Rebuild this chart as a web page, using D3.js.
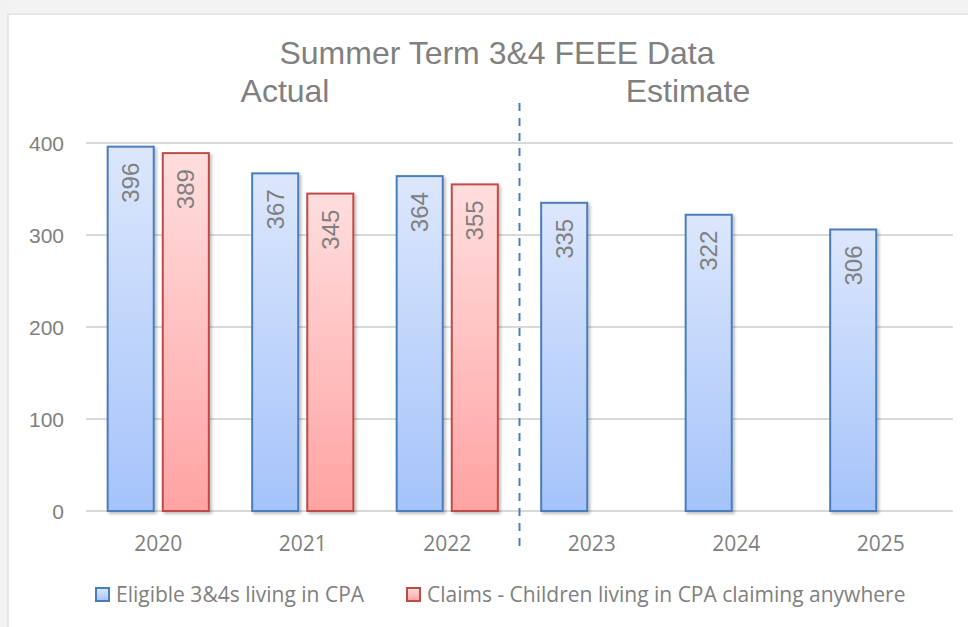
<!DOCTYPE html>
<html>
<head>
<meta charset="utf-8">
<script src="https://cdn.jsdelivr.net/npm/d3@7"></script>
<style>
  html, body { margin: 0; padding: 0; background: #fff; }
  svg { display: block; }
</style>
</head>
<body>
<script>
// chart data
var years = ["2020", "2021", "2022", "2023", "2024", "2025"];
var eligible = [396, 367, 364, 335, 322, 306];
var claims = [389, 345, 355, null, null, null];
var seriesNames = ["Eligible 3&4s living in CPA", "Claims - Children living in CPA claiming anywhere"];
var yTicks = [0, 100, 200, 300, 400];

var W = 968, H = 627;
var plot = { left: 86, right: 953, top: 143, bottom: 511 };

var svg = d3.select("body").append("svg").attr("width", W).attr("height", H);
var defs = svg.append("defs");

function grad(id, c1, c2) {
    var g = defs.append("linearGradient").attr("id", id)
        .attr("x1", 0).attr("y1", 0).attr("x2", 0).attr("y2", 1);
    g.append("stop").attr("offset", "0%").attr("stop-color", c1);
    g.append("stop").attr("offset", "100%").attr("stop-color", c2);
}
grad("gBlue", "#dce7fc", "#a5c3fa");
grad("gRed", "#ffdede", "#ffa3a3");

var sh = defs.append("filter").attr("id", "shadow").attr("x", "-20%").attr("y", "-20%").attr("width", "150%").attr("height", "150%");
sh.append("feDropShadow").attr("dx", 2).attr("dy", 2).attr("stdDeviation", 1.5)
    .attr("flood-color", "#000").attr("flood-opacity", 0.25);

// grey frame of the screenshot
svg.append("rect").attr("x", 0).attr("y", 0).attr("width", W).attr("height", 15).attr("fill", "#f3f3f3");
svg.append("rect").attr("x", 0).attr("y", 13).attr("width", W).attr("height", 2).attr("fill", "#e6e6e6");
svg.append("rect").attr("x", 0).attr("y", 0).attr("width", 8).attr("height", H).attr("fill", "#f2f2f2");
svg.append("rect").attr("x", 7).attr("y", 13).attr("width", 2).attr("height", H).attr("fill", "#e6e6e6");

var x0 = d3.scaleBand().domain(years).range([plot.left, plot.right])
    .paddingInner(0.3).paddingOuter(0.15);
var x1 = d3.scaleBand().domain([0, 1]).range([0, x0.bandwidth()]).paddingInner(0.164);
var y = d3.scaleLinear().domain([0, 400]).range([plot.bottom, plot.top]);

var txt = "#808080";

// gridlines
svg.append("g").selectAll("line").data(yTicks).enter().append("line")
    .attr("x1", plot.left).attr("x2", plot.right)
    .attr("y1", function(d) { return y(d); }).attr("y2", function(d) { return y(d); })
    .attr("stroke", "#d9d9d9").attr("stroke-width", 2);

// y axis labels
var yAxis = d3.axisLeft(y).tickValues(yTicks).tickSize(0).tickPadding(0);
var ya = svg.append("g").attr("transform", "translate(64,0)").call(yAxis);
ya.select(".domain").remove();
ya.selectAll("text").attr("fill", txt).style("font-family", "'Liberation Sans', Arial, sans-serif")
    .style("font-size", "21px").attr("dy", "0.35em");

// x axis labels
var xAxis = d3.axisBottom(x0).tickSize(0).tickPadding(0);
var xa = svg.append("g").attr("transform", "translate(0,535)").call(xAxis);
xa.select(".domain").remove();
xa.selectAll("text").attr("fill", txt).style("font-family", "'Open Sans', sans-serif")
    .style("font-size", "21px").attr("dy", "0.75em");

// bars
var rows = years.map(function(yr, i) {
    return { year: yr, vals: [eligible[i], claims[i]] };
});
var fills = ["url(#gBlue)", "url(#gRed)"];
var strokes = ["#4a7ebb", "#be4b48"];

var groups = svg.append("g").selectAll("g").data(rows).enter().append("g")
    .attr("transform", function(d) { return "translate(" + x0(d.year) + ",0)"; });

groups.selectAll("rect")
    .data(function(d) { return d.vals.map(function(v, k) { return { k: k, v: v }; }).filter(function(e) { return e.v != null; }); })
    .enter().append("rect")
    .attr("x", function(d) { return x1(d.k); })
    .attr("y", function(d) { return y(d.v); })
    .attr("width", x1.bandwidth())
    .attr("height", function(d) { return y(0) - y(d.v); })
    .attr("fill", function(d) { return fills[d.k]; })
    .attr("stroke", function(d) { return strokes[d.k]; })
    .attr("stroke-width", 2)
    .attr("filter", "url(#shadow)");

groups.selectAll("text.val")
    .data(function(d) { return d.vals.map(function(v, k) { return { k: k, v: v }; }).filter(function(e) { return e.v != null; }); })
    .enter().append("text").attr("class", "val")
    .attr("transform", function(d) {
        return "translate(" + (x1(d.k) + x1.bandwidth() / 2) + "," + (y(d.v) + 16) + ") rotate(-90)";
    })
    .attr("text-anchor", "end").attr("dy", "0.35em")
    .attr("fill", txt).style("font-family", "'Liberation Sans', Arial, sans-serif")
    .style("font-size", "24px")
    .text(function(d) { return d.v; });

// dashed divider between actual and estimate
var divX = x0("2023") - x0.step() * x0.paddingInner() / 2;
svg.append("line").attr("x1", divX).attr("x2", divX).attr("y1", 103).attr("y2", 546)
    .attr("stroke", "#4a7ebb").attr("stroke-width", 2).attr("stroke-dasharray", "8,7");

// titles
var titleFont = "'Liberation Sans', Arial, sans-serif";
svg.append("text").attr("x", 497).attr("y", 64).attr("text-anchor", "middle")
    .attr("fill", txt).style("font-family", titleFont).style("font-size", "32px")
    .text("Summer Term 3&4 FEEE Data");
svg.append("text").attr("x", 285).attr("y", 102).attr("text-anchor", "middle")
    .attr("fill", txt).style("font-family", titleFont).style("font-size", "32px")
    .text("Actual");
svg.append("text").attr("x", 688).attr("y", 102).attr("text-anchor", "middle")
    .attr("fill", txt).style("font-family", titleFont).style("font-size", "32px")
    .text("Estimate");

// legend
var legX = [96, 407];
var leg = svg.append("g").selectAll("g").data(seriesNames).enter().append("g")
    .attr("transform", function(d, i) { return "translate(" + legX[i] + ",588)"; });
leg.append("rect").attr("width", 13).attr("height", 13)
    .attr("fill", function(d, i) { return fills[i]; })
    .attr("stroke", function(d, i) { return strokes[i]; }).attr("stroke-width", 2);
leg.append("text").attr("x", 20).attr("y", 7).attr("dy", "0.35em")
    .attr("fill", txt).style("font-family", "'Open Sans', sans-serif").style("font-size", "21px")
    .text(function(d) { return d; });
</script>
</body>
</html>
